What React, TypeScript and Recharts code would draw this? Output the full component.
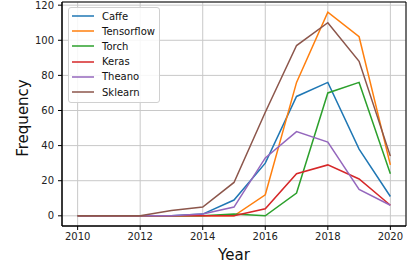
import { LineChart, Line, XAxis, YAxis, CartesianGrid, ReferenceArea } from "recharts";

const years = [2010, 2011, 2012, 2013, 2014, 2015, 2016, 2017, 2018, 2019, 2020];
const caffe = [0, 0, 0, 0, 1, 9, 30, 68, 76, 38, 11];
const tensorflow = [0, 0, 0, 0, 0, 0, 12, 76, 116, 102, 29];
const torch = [0, 0, 0, 0, 0, 1, 0, 13, 70, 76, 24];
const keras = [0, 0, 0, 0, 0, 0, 4, 24, 29, 21, 6];
const theano = [0, 0, 0, 0, 1, 5, 33, 48, 42, 15, 6];
const sklearn = [0, 0, 0, 3, 5, 19, 59, 97, 110, 88, 34];

const xTicks = [2010, 2012, 2014, 2016, 2018, 2020];
const yTicks = [0, 20, 40, 60, 80, 100, 120];

const series = [
    { key: "Caffe", values: caffe, color: "#1f77b4" },
    { key: "Tensorflow", values: tensorflow, color: "#ff7f0e" },
    { key: "Torch", values: torch, color: "#2ca02c" },
    { key: "Keras", values: keras, color: "#d62728" },
    { key: "Theano", values: theano, color: "#9467bd" },
    { key: "Sklearn", values: sklearn, color: "#8c564b" },
];

const data = years.map((year, i) => {
    const row: Record<string, number> = { year };
    series.forEach((s) => {
        row[s.key] = s.values[i];
    });
    return row;
});

const font = "DejaVu Sans, sans-serif";
const tickStyle = { fontSize: 10, fill: "#222", fontFamily: font };

export default function App() {
    return (
        <div style={{ position: "absolute", left: 0, top: 0, width: 409, height: 264, background: "#fff" }}>
            <LineChart width={409} height={264} data={data} margin={{ top: 2, right: 3, bottom: 0, left: 0 }}>
                <CartesianGrid stroke="#c8c8c8" strokeWidth={1} />
                <XAxis
                    dataKey="year"
                    type="number"
                    domain={[2009.5, 2020.5]}
                    ticks={xTicks}
                    allowDataOverflow
                    height={38}
                    tickSize={4}
                    tickMargin={3}
                    tick={tickStyle}
                    stroke="#000"
                    label={{ value: "Year", position: "insideBottom", offset: 4, fontSize: 15, fill: "#111", fontFamily: font }}
                />
                <YAxis
                    type="number"
                    domain={[-5.8, 121.8]}
                    ticks={yTicks}
                    allowDataOverflow
                    width={62}
                    tickSize={4}
                    tickMargin={4}
                    tick={tickStyle}
                    stroke="#000"
                    label={{ value: "Frequency", angle: -90, position: "insideLeft", offset: 23, dy: 4, fontSize: 15, fill: "#111", fontFamily: font, textAnchor: "middle" }}
                />
                <ReferenceArea x1={2009.5} x2={2020.5} y1={-5.8} y2={121.8} fill="none" stroke="#000" strokeWidth={1} ifOverflow="extendDomain" />
                {series.map((s) => (
                    <Line key={s.key} dataKey={s.key} stroke={s.color} strokeWidth={1.5} dot={false} type="linear" isAnimationActive={false} />
                ))}
            </LineChart>
            <div
                style={{
                    position: "absolute",
                    left: 68,
                    top: 7,
                    width: 92,
                    padding: "0.5px 0 2px 0",
                    boxSizing: "border-box",
                    background: "rgba(255,255,255,0.85)",
                    border: "1px solid #d0d0d0",
                    borderRadius: 3,
                    fontFamily: font,
                    fontSize: 10,
                    color: "#111",
                }}
            >
                {series.map((s) => (
                    <div key={s.key} style={{ display: "flex", alignItems: "center", height: 15.2 }}>
                        <svg width={22} height={4} style={{ marginLeft: 3, marginRight: 8, display: "block" }}>
                            <line x1={0} y1={2} x2={22} y2={2} stroke={s.color} strokeWidth={1.5} />
                        </svg>
                        <span>{s.key}</span>
                    </div>
                ))}
            </div>
        </div>
    );
}
